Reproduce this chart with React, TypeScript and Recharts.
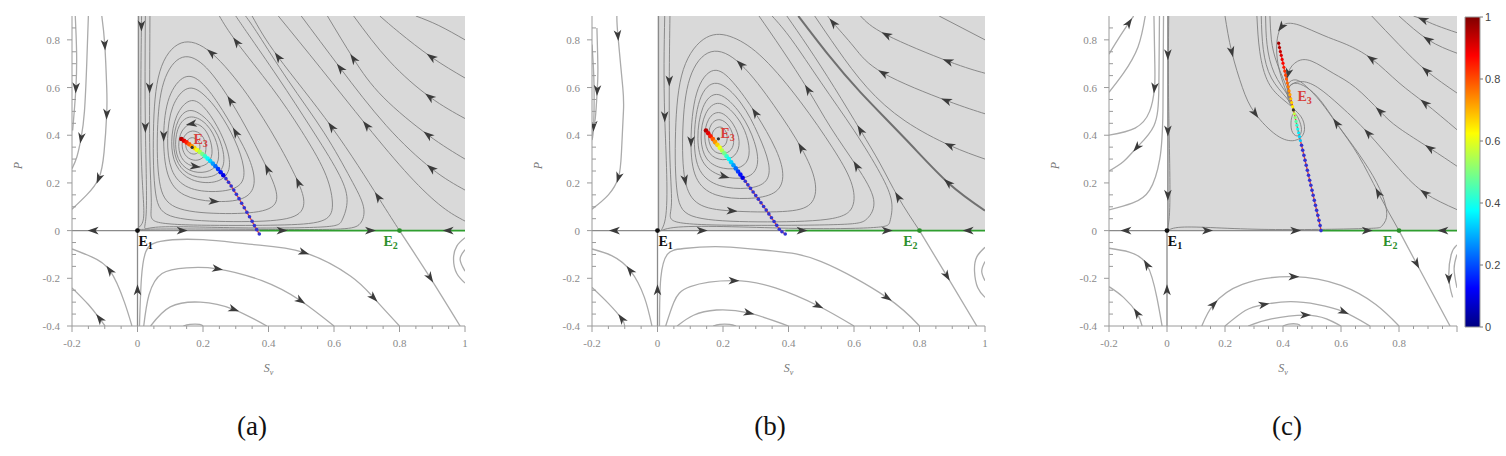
import React from 'react';
import { ComposedChart, Line, Scatter, XAxis, YAxis, ReferenceArea } from 'recharts';

// every curve point is [x, y] or [x, y, 1] where 1 puts an arrowhead there (flow goes with point order)

const xTicks = [-0.2, -0.15, -0.1, -0.05, 0, 0.05, 0.1, 0.15, 0.2, 0.25, 0.3, 0.35, 0.4, 0.45, 0.5, 0.55, 0.6, 0.65, 0.7, 0.75, 0.8, 0.85, 0.9, 0.95, 1];
const yTicks = [-0.4, -0.35, -0.3, -0.25, -0.2, -0.15, -0.1, -0.05, 0, 0.05, 0.1, 0.15, 0.2, 0.25, 0.3, 0.35, 0.4, 0.45, 0.5, 0.55, 0.6, 0.65, 0.7, 0.75, 0.8, 0.85];
const barTicks = [0, 0.2, 0.4, 0.6, 0.8, 1];
const barStops = [0, 0.125, 0.375, 0.625, 0.875, 1];

// ---------- panel (a) ----------
const aLoops = [
  [[0.167, 0.395], [0.15, 0.38], [0.145, 0.35], [0.158, 0.322], [0.182, 0.318], [0.193, 0.345], [0.188, 0.378]],
  [[0.167, 0.425], [0.14, 0.4], [0.133, 0.35], [0.148, 0.305], [0.178, 0.29], [0.205, 0.305], [0.212, 0.35], [0.2, 0.405]],
  [[0.166, 0.455, 1], [0.132, 0.425], [0.122, 0.35], [0.136, 0.29], [0.175, 0.262, 1], [0.215, 0.275], [0.232, 0.32], [0.222, 0.39], [0.2, 0.44]],
  [[0.163, 0.49], [0.124, 0.45], [0.112, 0.36], [0.126, 0.28], [0.17, 0.24], [0.225, 0.245], [0.252, 0.29], [0.245, 0.37], [0.215, 0.45]],
  [[0.162, 0.525], [0.12, 0.47], [0.106, 0.365], [0.12, 0.275], [0.165, 0.222], [0.232, 0.22], [0.268, 0.265], [0.262, 0.35], [0.23, 0.45]],
  [[0.16, 0.56], [0.115, 0.49], [0.1, 0.37], [0.112, 0.27], [0.16, 0.205], [0.24, 0.195], [0.285, 0.24], [0.28, 0.33], [0.245, 0.44], [0.2, 0.53]],
  [[0.152, 0.615], [0.102, 0.53], [0.088, 0.385], [0.098, 0.245], [0.148, 0.172], [0.24, 0.158], [0.322, 0.18], [0.33, 0.26], [0.3, 0.38], [0.25, 0.5], [0.2, 0.58]],
  [[0.145, 0.665], [0.09, 0.57], [0.076, 0.4, 1], [0.086, 0.22], [0.135, 0.14], [0.232, 0.118, 1], [0.33, 0.125], [0.365, 0.19], [0.345, 0.3], [0.303, 0.406, 1], [0.245, 0.54], [0.195, 0.63]],
  [[0.135, 0.755], [0.072, 0.64], [0.058, 0.42], [0.062, 0.18], [0.098, 0.085], [0.25, 0.068], [0.4, 0.075], [0.438, 0.13], [0.4, 0.252, 1], [0.345, 0.4], [0.288, 0.54, 1], [0.21, 0.7]],
  [[0.13, 0.815], [0.058, 0.69], [0.046, 0.42], [0.05, 0.12], [0.085, 0.045], [0.3, 0.035], [0.48, 0.042], [0.515, 0.1], [0.501, 0.182, 1], [0.43, 0.37], [0.34, 0.57], [0.222, 0.77, 1]],
];
const aInner = [
  [[0.038, 0.9], [0.037, 0.6, 1], [0.038, 0.3], [0.042, 0.1], [0.07, 0.033], [0.25, 0.022], [0.45, 0.024], [0.57, 0.045], [0.595, 0.12], [0.57, 0.25], [0.5, 0.42], [0.41, 0.6], [0.303, 0.79, 1], [0.25, 0.9]],
  [[0.024, 0.9], [0.024, 0.434, 1], [0.026, 0.06], [0.055, 0.014], [0.3, 0.012], [0.56, 0.015], [0.625, 0.045], [0.64, 0.13], [0.61, 0.25], [0.53, 0.43], [0.43, 0.64], [0.34, 0.82], [0.3, 0.9]],
  [[0.012, 0.9], [0.012, 0.86, 1], [0.012, 0.3], [0.014, 0.03], [0.04, 0.006], [0.4, 0.005], [0.62, 0.007], [0.68, 0.03], [0.69, 0.1], [0.65, 0.22], [0.57, 0.41], [0.46, 0.63], [0.37, 0.82], [0.33, 0.9]],
  [[0.8, 0], [0.735, 0.14, 1], [0.593, 0.434, 1], [0.43, 0.727, 1], [0.35, 0.9]],
  [[1, 0.04], [0.93, 0.1], [0.83, 0.23], [0.7, 0.44, 1], [0.56, 0.68], [0.43, 0.9]],
  [[1, 0.17], [0.898, 0.26, 1], [0.76, 0.44], [0.62, 0.68, 1], [0.5, 0.9]],
  [[1, 0.3], [0.888, 0.4, 1], [0.75, 0.56], [0.66, 0.72, 1], [0.58, 0.9]],
  [[1, 0.47], [0.893, 0.56, 1], [0.77, 0.71], [0.66, 0.9]],
  [[1, 0.64], [0.898, 0.727, 1], [0.8, 0.83], [0.74, 0.9]],
  [[1, 0.8], [0.92, 0.86], [0.85, 0.9]],
];
const aOuter = [
  [[-0.19, 0.9], [-0.186, 0.75], [-0.188, 0.6, 1], [-0.198, 0.42]],
  [[-0.109, 0.9], [-0.1, 0.78, 1], [-0.094, 0.6], [-0.094, 0.49, 1], [-0.102, 0.33], [-0.118, 0.22, 1], [-0.155, 0.15], [-0.2, 0.09]],
  [[-0.15, 0.9], [-0.155, 0.7], [-0.162, 0.5], [-0.172, 0.39, 1], [-0.185, 0.31], [-0.2, 0.26]],
  [[-0.017, -0.4], [-0.04, -0.3], [-0.084, -0.168, 1], [-0.14, -0.11], [-0.2, -0.077]],
  [[-0.099, -0.4], [-0.115, -0.37, 1], [-0.15, -0.31], [-0.2, -0.24]],
  [[0.006, -0.4], [0.012, -0.2], [0.025, -0.09], [0.07, -0.045], [0.2, -0.038], [0.35, -0.058], [0.507, -0.091, 1], [0.65, -0.19], [0.72, -0.28, 1], [0.8, -0.4]],
  [[0.019, -0.4], [0.035, -0.27], [0.075, -0.18], [0.15, -0.156], [0.243, -0.16, 1], [0.38, -0.21], [0.497, -0.293, 1], [0.6, -0.4]],
  [[0.04, -0.4], [0.1, -0.32], [0.192, -0.3], [0.293, -0.33, 1], [0.395, -0.4]],
  [[0.14, -0.4], [0.16, -0.393], [0.19, -0.393], [0.2, -0.4]],
  [[0.8, 0], [0.893, -0.196, 1], [0.985, -0.4]],
  [[1, -0.03], [0.975, -0.065], [0.965, -0.12], [0.975, -0.18], [1, -0.22]],
  [[1, -0.08], [0.985, -0.12], [1, -0.17]],
];
const aAxis = [
  [[0, 0], [-0.134, 0, 1], [-0.2, 0]],
  [[0, 0], [0.135, 0, 1], [0.372, 0]],
  [[0, -0.4], [0, -0.25, 1], [0, 0]],
  [[0.003, 0.9], [0.003, 0]],
];
const aGreen = [
  [[0.372, 0], [0.44, 0, 1], [0.71, 0, 1], [0.8, 0]],
  [[1, 0], [0.95, 0, 1], [0.8, 0]],
];
const aHead = [
  [0.134, 0.384, 0.95], [0.142, 0.377, 0.9], [0.15, 0.37, 0.85], [0.158, 0.362, 0.79], [0.166, 0.354, 0.73],
  [0.174, 0.346, 0.67], [0.182, 0.338, 0.61], [0.19, 0.33, 0.55], [0.198, 0.321, 0.49], [0.206, 0.312, 0.43],
  [0.214, 0.302, 0.38], [0.222, 0.292, 0.33], [0.23, 0.281, 0.28], [0.238, 0.27, 0.23], [0.246, 0.258, 0.18],
  [0.254, 0.245, 0.14], [0.262, 0.232, 0.1],
];
const aTail = [
  [0.27, 0.218], [0.278, 0.203], [0.286, 0.187], [0.294, 0.17], [0.302, 0.152], [0.31, 0.134], [0.318, 0.115],
  [0.326, 0.096], [0.334, 0.077], [0.342, 0.058], [0.35, 0.039], [0.357, 0.021], [0.364, 0.004], [0.372, -0.014],
];
const aPoints = [[0, 0], [0.8, 0], [0.167, 0.349]];
const aLabels = [[0.003, -0.063], [0.751, -0.063], [0.171, 0.365]];

// ---------- panel (b) ----------
const bLoops = [
  [[0.19, 0.44], [0.168, 0.422], [0.163, 0.38], [0.18, 0.35], [0.205, 0.348], [0.216, 0.385], [0.208, 0.425]],
  [[0.19, 0.475], [0.16, 0.45], [0.152, 0.385], [0.168, 0.33], [0.2, 0.318], [0.228, 0.335], [0.236, 0.38], [0.222, 0.44]],
  [[0.19, 0.51], [0.152, 0.475], [0.14, 0.39], [0.155, 0.315], [0.2, 0.29], [0.24, 0.31], [0.255, 0.37], [0.235, 0.45]],
  [[0.187, 0.555], [0.142, 0.5], [0.128, 0.385], [0.145, 0.29], [0.2, 0.255], [0.26, 0.26], [0.285, 0.31], [0.275, 0.4], [0.245, 0.48]],
  [[0.183, 0.6], [0.133, 0.53], [0.118, 0.38], [0.135, 0.27], [0.2, 0.22, 1], [0.28, 0.215], [0.312, 0.27], [0.3, 0.37], [0.26, 0.49]],
  [[0.178, 0.65], [0.122, 0.565], [0.108, 0.37], [0.122, 0.24], [0.185, 0.18], [0.28, 0.172], [0.34, 0.2], [0.345, 0.28], [0.31, 0.4], [0.26, 0.54]],
  [[0.172, 0.7], [0.112, 0.6], [0.098, 0.36, 1], [0.11, 0.21], [0.17, 0.14], [0.28, 0.13], [0.365, 0.15], [0.39, 0.22], [0.37, 0.33], [0.298, 0.5, 1], [0.23, 0.63]],
  [[0.16, 0.78], [0.09, 0.66], [0.074, 0.42], [0.078, 0.19, 1], [0.118, 0.1], [0.21, 0.08, 1], [0.4, 0.075], [0.478, 0.1], [0.49, 0.2], [0.446, 0.34, 1], [0.36, 0.52], [0.252, 0.72, 1]],
  [[0.15, 0.835], [0.068, 0.7], [0.052, 0.42], [0.055, 0.12], [0.09, 0.045], [0.3, 0.034], [0.55, 0.04], [0.605, 0.09], [0.6, 0.2], [0.54, 0.34], [0.44, 0.54], [0.32, 0.74], [0.23, 0.82]],
];
const bInner = [
  [[0.038, 0.9], [0.036, 0.63, 1], [0.038, 0.3], [0.042, 0.1], [0.07, 0.033], [0.3, 0.022], [0.56, 0.026], [0.64, 0.05], [0.66, 0.13], [0.608, 0.27, 1], [0.53, 0.43], [0.46, 0.59, 1], [0.38, 0.76], [0.31, 0.9]],
  [[0.022, 0.9], [0.022, 0.48, 1], [0.024, 0.05], [0.05, 0.013], [0.4, 0.01], [0.66, 0.013], [0.71, 0.04], [0.715, 0.12], [0.68, 0.24], [0.6, 0.42], [0.5, 0.62], [0.41, 0.8], [0.35, 0.9]],
  [[0.8, 0], [0.735, 0.14, 1], [0.68, 0.28], [0.62, 0.42, 1], [0.54, 0.6], [0.46, 0.77], [0.395, 0.9]],
  [[1, 0.3], [0.893, 0.357, 1], [0.756, 0.46], [0.64, 0.6], [0.55, 0.76], [0.48, 0.9]],
  [[1, 0.49], [0.883, 0.545, 1], [0.69, 0.66, 1], [0.6, 0.77], [0.537, 0.87, 1], [0.52, 0.9]],
  [[1, 0.66], [0.888, 0.71, 1], [0.7, 0.82, 1], [0.62, 0.9]],
  [[1, 0.8], [0.93, 0.85], [0.86, 0.9]],
];
const bThick = [
  [[1, 0.084], [0.888, 0.2, 1], [0.76, 0.38], [0.62, 0.58], [0.52, 0.74], [0.43, 0.9]],
];
const bOuter = [
  [[-0.124, 0.9], [-0.121, 0.82, 1], [-0.106, 0.6], [-0.104, 0.5], [-0.11, 0.33], [-0.119, 0.224, 1], [-0.15, 0.15], [-0.2, 0.09]],
  [[-0.185, 0.85], [-0.182, 0.68], [-0.184, 0.59, 1], [-0.19, 0.47], [-0.2, 0.4]],
  [[-0.2, 0.78], [-0.194, 0.62], [-0.195, 0.44, 1], [-0.2, 0.38]],
  [[-0.017, -0.4], [-0.04, -0.28], [-0.083, -0.168, 1], [-0.14, -0.105], [-0.2, -0.077]],
  [[-0.1, -0.4], [-0.109, -0.37, 1], [-0.15, -0.305], [-0.2, -0.238]],
  [[0.006, -0.4], [0.01, -0.2], [0.03, -0.1], [0.08, -0.075], [0.2, -0.068], [0.35, -0.085], [0.5, -0.13], [0.7, -0.28, 1], [0.8, -0.4]],
  [[0.025, -0.4], [0.05, -0.3], [0.1, -0.235], [0.232, -0.21, 1], [0.36, -0.24], [0.49, -0.315, 1], [0.6, -0.4]],
  [[0.06, -0.4], [0.11, -0.355], [0.18, -0.333], [0.278, -0.345, 1], [0.4, -0.4]],
  [[0.17, -0.4], [0.19, -0.393], [0.22, -0.393], [0.24, -0.4]],
  [[0.8, 0], [0.883, -0.189, 1], [0.975, -0.4]],
  [[1, -0.07], [0.975, -0.11], [0.968, -0.17], [0.978, -0.24], [1, -0.28]],
  [[1, -0.13], [0.99, -0.17], [1, -0.21]],
];
const bAxis = [
  [[0, 0], [-0.13, 0, 1], [-0.2, 0]],
  [[0, 0], [0.135, 0, 1], [0.39, 0]],
  [[0, -0.4], [0, -0.25, 1], [0, 0]],
  [[0.003, 0.9], [0.003, 0]],
];
const bGreen = [
  [[0.39, 0], [0.44, 0, 1], [0.7, 0, 1], [0.8, 0]],
  [[1, 0], [0.95, 0, 1], [0.8, 0]],
];
const bHead = [
  [0.148, 0.42, 0.95], [0.155, 0.408, 0.9], [0.162, 0.396, 0.85], [0.169, 0.384, 0.79], [0.176, 0.372, 0.73],
  [0.183, 0.36, 0.67], [0.19, 0.348, 0.61], [0.197, 0.336, 0.55], [0.204, 0.324, 0.49], [0.211, 0.312, 0.43],
  [0.218, 0.3, 0.38], [0.225, 0.287, 0.33], [0.232, 0.274, 0.28], [0.239, 0.261, 0.23], [0.246, 0.248, 0.18],
  [0.253, 0.235, 0.14], [0.26, 0.222, 0.1],
];
const bTail = [
  [0.268, 0.207], [0.276, 0.192], [0.284, 0.177], [0.292, 0.162], [0.3, 0.147], [0.308, 0.132], [0.316, 0.117],
  [0.324, 0.101], [0.332, 0.086], [0.34, 0.07], [0.348, 0.054], [0.356, 0.038], [0.364, 0.022], [0.372, 0.006],
  [0.38, -0.005], [0.39, -0.014],
];
const bPoints = [[0, 0], [0.8, 0], [0.186, 0.385]];
const bLabels = [[0.003, -0.063], [0.75, -0.063], [0.192, 0.39]];

// ---------- panel (c) ----------
const cLoops = [
  [[0.436, 0.506], [0.455, 0.47], [0.468, 0.42], [0.455, 0.39], [0.43, 0.405], [0.425, 0.455]],
];
const cInner = [
  [[0.2, 0.9], [0.223, 0.751, 1], [0.26, 0.6], [0.303, 0.493, 1], [0.378, 0.4], [0.44, 0.378], [0.472, 0.41], [0.468, 0.465], [0.442, 0.505]],
  [[0.006, 0.9], [0.006, 0.5], [0.008, 0.06], [0.03, 0.012], [0.3, 0.006], [0.66, 0.008], [0.74, 0.018], [0.757, 0.055], [0.748, 0.13], [0.71, 0.23], [0.645, 0.35], [0.585, 0.45, 1], [0.53, 0.545], [0.482, 0.6], [0.44, 0.618], [0.418, 0.59], [0.432, 0.53]],
  [[0.8, 0], [0.729, 0.157, 1], [0.66, 0.315], [0.59, 0.44], [0.53, 0.54], [0.48, 0.605], [0.445, 0.632], [0.418, 0.615], [0.418, 0.565], [0.435, 0.515]],
  [[1, 0.83], [0.93, 0.86], [0.884, 0.884, 1], [0.85, 0.9]],
  [[1, 0.744], [0.901, 0.8, 1], [0.8, 0.9]],
  [[1, 0.577], [0.895, 0.67, 1], [0.8, 0.78], [0.706, 0.9]],
  [[1, 0.423], [0.89, 0.534, 1], [0.8, 0.62], [0.706, 0.72, 1], [0.62, 0.78], [0.557, 0.81], [0.48, 0.85], [0.436, 0.868], [0.395, 0.855, 1], [0.378, 0.77], [0.388, 0.67], [0.412, 0.58], [0.432, 0.525]],
  [[1, 0.27], [0.907, 0.345, 1], [0.8, 0.43], [0.735, 0.5, 1], [0.65, 0.6], [0.573, 0.66], [0.5, 0.71], [0.45, 0.71], [0.418, 0.66, 1], [0.42, 0.58], [0.434, 0.52]],
  [[1, 0.088], [0.89, 0.157, 1], [0.8, 0.26], [0.694, 0.408, 1], [0.6, 0.52], [0.52, 0.6], [0.46, 0.625], [0.42, 0.6], [0.418, 0.55], [0.434, 0.515]],
  [[0.31, 0.9], [0.32, 0.75], [0.35, 0.62], [0.4, 0.55], [0.435, 0.515]],
  [[0.325, 0.9], [0.332, 0.76], [0.36, 0.64], [0.41, 0.56], [0.435, 0.515]],
  [[0.34, 0.9], [0.345, 0.78], [0.37, 0.66], [0.415, 0.57], [0.435, 0.515]],
  [[0.355, 0.9], [0.36, 0.8], [0.38, 0.7], [0.42, 0.58], [0.435, 0.515]],
];
const cOuter = [
  [[-0.2, 0.74], [-0.17, 0.8], [-0.132, 0.87, 1], [-0.115, 0.9]],
  [[-0.2, 0.58], [-0.15, 0.66], [-0.1, 0.77], [-0.075, 0.9]],
  [[-0.045, 0.9], [-0.042, 0.7], [-0.043, 0.6, 1], [-0.06, 0.5], [-0.11, 0.43], [-0.2, 0.4]],
  [[-0.026, 0.9], [-0.028, 0.6], [-0.045, 0.44], [-0.103, 0.35, 1], [-0.15, 0.29], [-0.2, 0.25]],
  [[-0.012, 0.9], [-0.014, 0.5], [-0.025, 0.3], [-0.06, 0.17], [-0.12, 0.115], [-0.2, 0.087]],
  [[-0.017, -0.4], [-0.035, -0.28], [-0.069, -0.144, 1], [-0.13, -0.09], [-0.2, -0.074]],
  [[-0.086, -0.4], [-0.103, -0.347, 1], [-0.15, -0.28], [-0.2, -0.235]],
  [[0.12, -0.4], [0.16, -0.31, 1], [0.26, -0.225], [0.436, -0.193, 1], [0.6, -0.23], [0.72, -0.31], [0.8, -0.4]],
  [[0.2, -0.4], [0.27, -0.335], [0.333, -0.31, 1], [0.425, -0.298], [0.52, -0.31], [0.608, -0.34, 1], [0.7, -0.4]],
  [[0.28, -0.4], [0.36, -0.37], [0.476, -0.354, 1], [0.55, -0.37], [0.6, -0.4]],
  [[0.4, -0.4], [0.42, -0.392], [0.45, -0.392], [0.46, -0.4]],
  [[0.8, 0], [0.86, -0.137, 1], [0.976, -0.4]],
  [[1, -0.06], [0.98, -0.1], [0.972, -0.2, 1], [0.985, -0.28]],
  [[1, -0.1], [0.99, -0.16], [1, -0.24]],
];
const cAxis = [
  [[0, 0], [-0.14, 0, 1], [-0.2, 0]],
  [[0, 0], [0.138, 0, 1], [0.442, 0, 1], [0.531, 0]],
  [[0, -0.4], [0, -0.25, 1], [0, 0]],
  [[0.003, 0.9], [0.003, 0.74, 1], [0.003, 0.42, 1], [0.003, 0.15, 1], [0.003, 0]],
];
const cGreen = [
  [[0.531, 0], [0.689, 0, 1], [0.8, 0]],
  [[1, 0], [0.953, 0, 1], [0.8, 0]],
];
const cHead = [
  [0.385, 0.786, 0.97], [0.388, 0.768, 0.95], [0.391, 0.751, 0.93], [0.394, 0.735, 0.91], [0.397, 0.718, 0.89],
  [0.4, 0.702, 0.87], [0.403, 0.685, 0.85], [0.406, 0.669, 0.83], [0.409, 0.652, 0.81], [0.412, 0.636, 0.79],
  [0.415, 0.619, 0.77], [0.418, 0.603, 0.75], [0.421, 0.586, 0.73], [0.424, 0.57, 0.71], [0.427, 0.553, 0.69],
  [0.43, 0.537, 0.67], [0.433, 0.52, 0.64], [0.436, 0.506, 0.61], [0.439, 0.49, 0.56], [0.442, 0.474, 0.51],
  [0.445, 0.458, 0.46], [0.448, 0.442, 0.42], [0.451, 0.426, 0.39], [0.454, 0.41, 0.36], [0.457, 0.394, 0.34],
  [0.46, 0.378, 0.32],
];
const cTail = [
  [0.464, 0.358], [0.468, 0.337], [0.472, 0.316], [0.476, 0.295], [0.48, 0.274], [0.484, 0.253], [0.488, 0.232],
  [0.492, 0.211], [0.496, 0.19], [0.5, 0.169], [0.504, 0.148], [0.508, 0.127], [0.512, 0.106], [0.516, 0.085],
  [0.52, 0.064], [0.524, 0.043], [0.528, 0.021], [0.531, 0],
];
const cPoints = [[0, 0], [0.8, 0], [0.436, 0.506]];
const cLabels = [[0.003, -0.063], [0.745, -0.063], [0.45, 0.545]];

const jet = (v: number) => {
  const c = (t: number) => Math.round(255 * Math.max(0, Math.min(1, t)));
  return `rgb(${c(1.5 - Math.abs(4 * v - 3))},${c(1.5 - Math.abs(4 * v - 2))},${c(1.5 - Math.abs(4 * v - 1))})`;
};

const fmt = (v: number) => (Math.abs(v) < 1e-9 ? '0' : String(Number(v.toFixed(2))));
const isMajor = (v: number) => Math.abs(v * 5 - Math.round(v * 5)) < 1e-6;
const tickFont = { fontSize: 11, fill: '#8a8a8a', fontFamily: '"Liberation Serif", serif' };

const arrowDot = (pts: number[][], closed: boolean, k: number[], fill: string) => (props: any) => {
  const { cx, cy, index } = props;
  const key = `ad-${index}`;
  const p = pts[index];
  if (!p || !p[2] || typeof cx !== 'number' || typeof cy !== 'number') return <g key={key} />;
  const n = pts.length;
  const prev = index > 0 ? pts[index - 1] : closed ? pts[n - 1] : p;
  const next = index < n - 1 ? pts[index + 1] : closed ? pts[0] : p;
  let ox = 0;
  let oy = 0;
  if (closed) {
    // basis spline passes through (prev + 4p + next) / 6
    ox = ((prev[0] + 4 * p[0] + next[0]) / 6 - p[0]) * k[0];
    oy = -((prev[1] + 4 * p[1] + next[1]) / 6 - p[1]) * k[1];
  }
  const ang = (Math.atan2(-(next[1] - prev[1]) * k[1], (next[0] - prev[0]) * k[0]) * 180) / Math.PI;
  return (
    <path key={key} d="M6,0 L-5,3.8 L-2,0 L-5,-3.8 Z" fill={fill}
      transform={`translate(${cx + ox},${cy + oy}) rotate(${ang})`} />
  );
};

const XTick = (props: any) => {
  const { x, y, payload, hideOne } = props;
  const v = payload.value;
  const major = isMajor(v);
  return (
    <g>
      <line x1={x} x2={x} y1={y} y2={y + (major ? 6 : 3)} stroke="#9a9a9a" />
      {major && !(hideOne && v === 1) && (
        <text x={x} y={y + 21} textAnchor="middle" {...tickFont}>{fmt(v)}</text>
      )}
    </g>
  );
};

const YTick = (props: any) => {
  const { x, y, payload } = props;
  const v = payload.value;
  const major = isMajor(v);
  return (
    <g>
      {major ? <line x1={x - 5} x2={x} y1={y} y2={y} stroke="#9a9a9a" /> : <line x1={x} x2={x + 4} y1={y} y2={y} stroke="#9a9a9a" />}
      {major && <text x={x - 12} y={y + 4} textAnchor="end" {...tickFont}>{fmt(v)}</text>}
    </g>
  );
};

type PanelProps = {
  left: number;
  width: number;
  tag: string;
  tagX: number;
  hideOne?: boolean;
  headR: number;
  loops: number[][][];
  inner: number[][][];
  thick?: number[][][];
  outer: number[][][];
  axis: number[][][];
  green: number[][][];
  head: number[][];
  tail: number[][];
  points: number[][];
  labels: number[][];
};

const toXY = (pts: number[][]) => pts.map((q) => ({ x: q[0], y: q[1] }));

function Panel(p: PanelProps) {
  const plotW = p.width - 87;
  const k = [plotW / 1.2, 310 / 1.3];
  const arrowFill = '#3b3b3b';
  const curve = (pts: number[][], key: string, stroke: string, sw: number, kind: string) => (
    <Line key={key} data={toXY(pts)} dataKey="y"
      type={kind === 'loop' ? 'basisClosed' : kind === 'curve' ? 'natural' : 'linear'}
      stroke={stroke} strokeWidth={sw} dot={arrowDot(pts, kind === 'loop', k, arrowFill)}
      activeDot={false} isAnimationActive={false} legendType="none" />
  );
  const pointColors = ['#111', '#2c8f2c', '#333'];
  const labelColors = ['#111', '#2c8f2c', '#d8403a'];
  const subs = ['1', '2', '3'];

  return (
    <div style={{ position: 'absolute', left: p.left, top: 0, width: p.width, height: 456 }}>
      <ComposedChart width={p.width} height={356} margin={{ top: 16, right: 15, bottom: 0, left: 32 }}>
        <XAxis type="number" dataKey="x" domain={[-0.2, 1]} ticks={xTicks} interval={0} allowDataOverflow
          tickSize={0} tickMargin={0} tickLine={false} axisLine={{ stroke: '#9a9a9a' }} height={30}
          tick={(tp: any) => <XTick {...tp} hideOne={p.hideOne} />} />
        <YAxis type="number" dataKey="y" domain={[-0.4, 0.9]} ticks={yTicks} interval={0} allowDataOverflow
          tickSize={0} tickMargin={0} tickLine={false} axisLine={{ stroke: '#9a9a9a' }} width={40}
          tick={(tp: any) => <YTick {...tp} />} />
        <ReferenceArea x1={0} x2={1} y1={0} y2={0.9} fill="#d9d9d9" fillOpacity={1} stroke="none" />
        {p.outer.map((c, i) => curve(c, `o${i}`, '#ababab', 1.3, 'curve'))}
        {p.loops.map((c, i) => curve(c, `l${i}`, '#808080', 0.9, 'loop'))}
        {p.inner.map((c, i) => curve(c, `i${i}`, '#808080', 0.9, 'curve'))}
        {(p.thick || []).map((c, i) => curve(c, `t${i}`, '#707070', 2, 'curve'))}
        {p.axis.map((c, i) => curve(c, `a${i}`, '#8a8a8a', 1.3, 'straight'))}
        {p.green.map((c, i) => curve(c, `g${i}`, '#2f9e2f', 1.6, 'straight'))}
        <Line data={toXY([...p.head, ...p.tail])} dataKey="y" type="natural" stroke="#e0403a" strokeWidth={1.3}
          dot={false} activeDot={false} isAnimationActive={false} legendType="none" />
        <Scatter data={p.tail.map((q) => ({ x: q[0], y: q[1] }))} isAnimationActive={false} legendType="none"
          shape={(sp: any) => <circle cx={sp.cx} cy={sp.cy} r={1.8} fill="#3434d2" />} />
        <Scatter data={p.head.map((q) => ({ x: q[0], y: q[1], c: q[2] }))} isAnimationActive={false} legendType="none"
          shape={(sp: any) => <circle cx={sp.cx} cy={sp.cy} r={p.headR} fill={jet(sp.payload.c)} />} />
        <Scatter data={p.points.map((q, i) => ({ x: q[0], y: q[1], i }))} isAnimationActive={false} legendType="none"
          shape={(sp: any) => <circle cx={sp.cx} cy={sp.cy} r={sp.payload.i === 2 ? 1.6 : 2.4} fill={pointColors[sp.payload.i]} />} />
        <Scatter data={p.labels.map((q, i) => ({ x: q[0], y: q[1], i }))} isAnimationActive={false} legendType="none"
          shape={(sp: any) => (
            <text x={sp.cx} y={sp.cy} fill={labelColors[sp.payload.i]} fontWeight="bold" fontSize={14}
              fontFamily='"Liberation Serif", serif'>
              E<tspan fontSize={10} dy={3}>{subs[sp.payload.i]}</tspan>
            </text>
          )} />
      </ComposedChart>
      <div style={{ position: 'absolute', left: 8, top: 158, width: 20, textAlign: 'center', transform: 'rotate(-90deg)',
        fontStyle: 'italic', fontSize: 12, color: '#777', fontFamily: '"Liberation Serif", serif' }}>P</div>
      <div style={{ position: 'absolute', left: 72, top: 361, width: plotW, textAlign: 'center',
        fontStyle: 'italic', fontSize: 12, color: '#777', fontFamily: '"Liberation Serif", serif' }}>
        S<sub style={{ fontSize: 8 }}>v</sub>
      </div>
      <div style={{ position: 'absolute', left: p.tagX - p.left - 40, top: 411, width: 80, textAlign: 'center',
        fontSize: 27, color: '#111', fontFamily: '"Liberation Serif", serif' }}>{p.tag}</div>
    </div>
  );
}

function ColorBar() {
  return (
    <div style={{ position: 'absolute', left: 1440, top: 0 }}>
      <ComposedChart width={66} height={340} margin={{ top: 17, right: 0, bottom: 13, left: 25 }}>
        <defs>
          <linearGradient id="jetbar" x1="0" y1="1" x2="0" y2="0">
            {barStops.map((s) => <stop key={s} offset={s} stopColor={jet(s)} />)}
          </linearGradient>
        </defs>
        <XAxis type="number" dataKey="x" domain={[0, 1]} hide />
        <YAxis type="number" dataKey="y" orientation="right" domain={[0, 1]} ticks={barTicks} interval={0} width={26}
          axisLine={false} tickLine={{ stroke: '#777' }} tickSize={3} tickMargin={2}
          tick={{ fontSize: 11, fill: '#444', fontFamily: '"Liberation Sans", sans-serif' }} />
        <ReferenceArea x1={0} x2={1} y1={0} y2={1} fill="url(#jetbar)" fillOpacity={1} stroke="#999" />
        <Scatter data={[{ x: 0, y: 0 }, { x: 1, y: 1 }]} isAnimationActive={false} legendType="none" shape={() => <g />} />
      </ComposedChart>
    </div>
  );
}

export default function App() {
  return (
    <div style={{ position: 'absolute', left: 0, top: 0, width: 1506, height: 456, background: '#fff' }}>
      <Panel left={0} width={480} tag="(a)" tagX={252} headR={2.3} loops={aLoops} inner={aInner} outer={aOuter} axis={aAxis}
        green={aGreen} head={aHead} tail={aTail} points={aPoints} labels={aLabels} />
      <Panel left={520} width={480} tag="(b)" tagX={770} headR={2.3} loops={bLoops} inner={bInner} thick={bThick} outer={bOuter}
        axis={bAxis} green={bGreen} head={bHead} tail={bTail} points={bPoints} labels={bLabels} />
      <Panel left={1037} width={435} tag="(c)" tagX={1287} headR={1.6} hideOne loops={cLoops} inner={cInner} outer={cOuter}
        axis={cAxis} green={cGreen} head={cHead} tail={cTail} points={cPoints} labels={cLabels} />
      <ColorBar />
    </div>
  );
}
